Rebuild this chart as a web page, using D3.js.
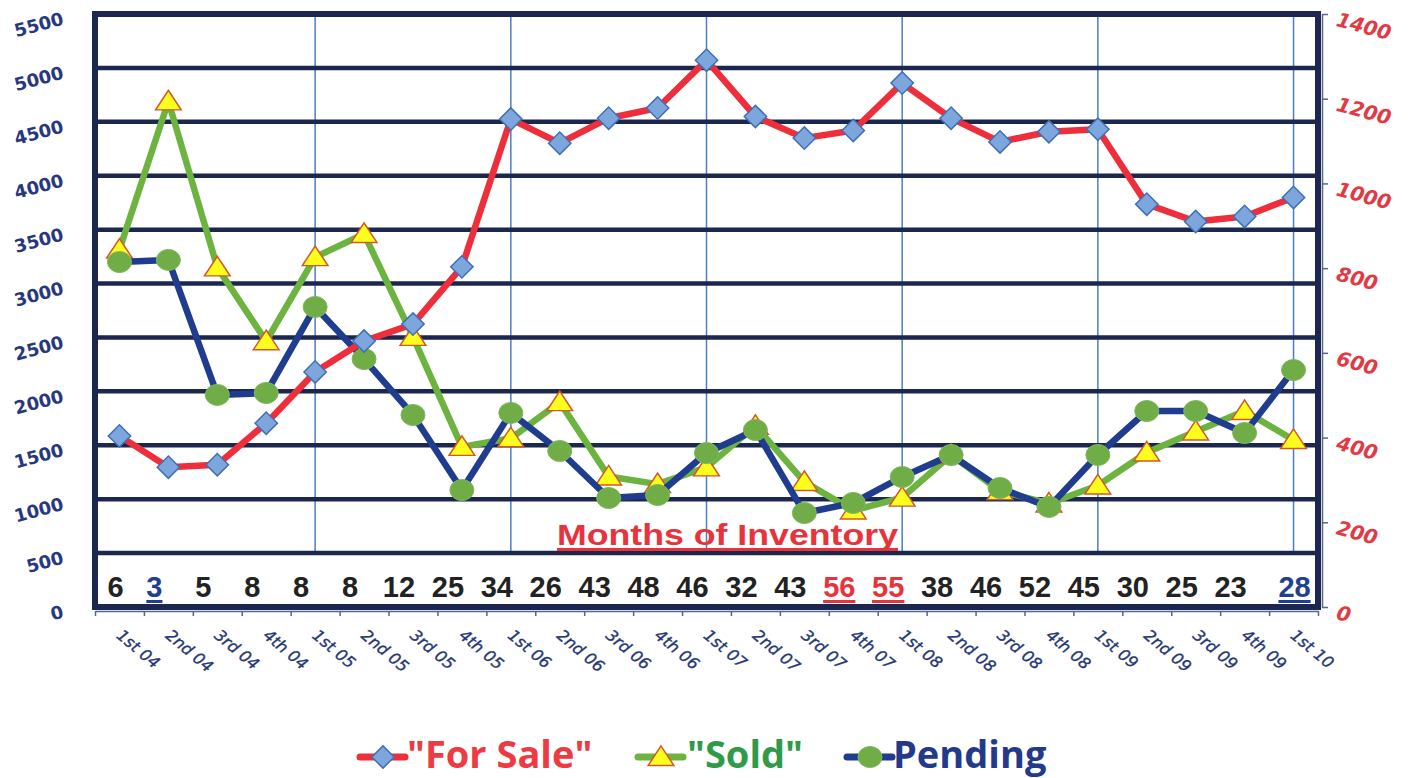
<!DOCTYPE html>
<html><head><meta charset="utf-8">
<script src="https://cdn.jsdelivr.net/npm/d3@7"></script>
<style>html,body{margin:0;padding:0;background:#fff;}svg{display:block;}</style>
</head><body>
<svg id="chart" width="1408" height="778"></svg>
<script>
const categories = ["1st 04","2nd 04","3rd 04","4th 04","1st 05","2nd 05","3rd 05","4th 05","1st 06","2nd 06","3rd 06","4th 06","1st 07","2nd 07","3rd 07","4th 07","1st 08","2nd 08","3rd 08","4th 08","1st 09","2nd 09","3rd 09","4th 09","1st 10"];
const forSale = [404,330,336,434,555,628,668,803,1152,1095,1154,1178,1291,1158,1107,1125,1237,1154,1098,1122,1128,951,910,922,967];
const sold = [3315,4690,3150,2465,3245,3460,2505,1485,1565,1900,1210,1140,1295,1680,1160,895,1015,1410,1075,960,1127,1433,1628,1818,1549];
const pending = [3200,3219,1967,1985,2783,2300,1781,1085,1800,1447,1011,1039,1428,1642,872,965,1206,1410,1104,928,1410,1818,1818,1614,2198];
const monthsOfInventory = [6,3,5,8,8,8,12,25,34,26,43,48,46,32,43,56,55,38,46,52,45,30,25,23,28];
const monthsBlue = ["2nd 04","1st 10"];
const monthsRed = ["4th 07","1st 08"];
const leftTicks = [0,500,1000,1500,2000,2500,3000,3500,4000,4500,5000,5500];
const rightTicks = [0,200,400,600,800,1000,1200,1400];
const seriesNames = ['"For Sale"','"Sold"','Pending'];
const inventoryTitle = "Months of Inventory";

const svg = d3.select("#chart");
const L = 95, R = 1318, T = 14, B = 607;
const x = d3.scaleBand().domain(categories).range([L, R]);
const cx = c => x(c) + x.bandwidth()/2;
const yL = d3.scaleLinear().domain([0, 5500]).range([B, T]);
const yR = d3.scaleLinear().domain([0, 1400]).range([B, T]);

const NAVY = "#1c2750", RED = "#ee2f3b", GREEN = "#6db33f", BLUE = "#1f3c8e";

// vertical year lines
svg.append("g").selectAll("line")
  .data(categories.filter((c,i) => c.startsWith("1st") && i > 0))
  .join("line")
  .attr("x1", d => cx(d)).attr("x2", d => cx(d))
  .attr("y1", T).attr("y2", yL(500))
  .attr("stroke", "#4a7fc2").attr("stroke-width", 1.5);

// horizontal grid
svg.append("g").selectAll("line")
  .data(leftTicks.filter(v => v > 0 && v < 5500))
  .join("line")
  .attr("x1", L).attr("x2", R)
  .attr("y1", d => yL(d)).attr("y2", d => yL(d))
  .attr("stroke", NAVY).attr("stroke-width", 4.5);

// frame
svg.append("rect").attr("x", L).attr("y", T).attr("width", R - L).attr("height", B - T)
  .attr("fill", "none").attr("stroke", NAVY).attr("stroke-width", 6);

// bottom axis with ticks at band edges
const xEdge = d3.scaleLinear().domain([0, categories.length]).range([L, R]);
const gx = svg.append("g").attr("transform", `translate(0,${B + 4})`)
  .call(d3.axisBottom(xEdge).ticks(categories.length).tickFormat("").tickSize(5).tickSizeOuter(0));
gx.selectAll("path,line").attr("stroke", "#56648e").attr("stroke-width", 1.5);

// x labels
svg.append("g").selectAll("text").data(categories).join("text")
  .attr("transform", d => `translate(${cx(d) - 4},${B + 30}) rotate(40)`)
  .attr("font-family", "DejaVu Sans").attr("font-size", 16).attr("font-style", "italic")
  .attr("fill", "#263774").attr("stroke", "#263774").attr("stroke-width", 0.35).text(d => d);

// left axis labels
svg.append("g").selectAll("text").data(leftTicks).join("text")
  .attr("transform", d => `translate(63,${yL(d) + 4}) rotate(-15)`)
  .attr("text-anchor", "end").attr("dominant-baseline", "central")
  .attr("font-family", "DejaVu Sans").attr("font-weight", "bold").attr("font-size", 18)
  .attr("fill", "#28387c").text(d => d);

// right axis
const gr = svg.append("g").attr("transform", `translate(${R + 4},0)`)
  .call(d3.axisRight(yR).tickValues(rightTicks).tickFormat("").tickSize(6).tickSizeOuter(0));
gr.selectAll("path,line").attr("stroke", "#56648e").attr("stroke-width", 1.5);
svg.append("g").selectAll("text").data(rightTicks).join("text")
  .attr("transform", d => `translate(1337,${yR(d) + 5}) rotate(15)`)
  .attr("dominant-baseline", "central")
  .attr("font-family", "DejaVu Sans").attr("font-weight", "bold").attr("font-style", "italic").attr("font-size", 20)
  .attr("fill", "#e23a45").text(d => d);

// months of inventory row
const mcol = c => monthsRed.includes(c) ? "#e8323c" : monthsBlue.includes(c) ? "#23408e" : "#222";
const mg = svg.append("g");
categories.forEach((c, i) => {
  const off = i === 0 ? -4 : (i === categories.length - 1 ? 1 : -14);
  const t = mg.append("text").attr("x", cx(c) + off).attr("y", 597)
    .attr("text-anchor", "middle").attr("font-family", "Liberation Sans").attr("font-weight", "bold")
    .attr("font-size", 29).attr("fill", mcol(c)).text(monthsOfInventory[i]);
  if (monthsRed.includes(c) || monthsBlue.includes(c)) {
    const w = t.node().getComputedTextLength();
    mg.append("rect").attr("x", cx(c) + off - w/2).attr("y", 600).attr("width", w).attr("height", 3).attr("fill", mcol(c));
  }
});

// Months of Inventory title
svg.append("text").attr("x", 557).attr("y", 545)
  .attr("font-family", "Liberation Sans").attr("font-weight", "bold").attr("font-size", 30)
  .attr("textLength", 341).attr("lengthAdjust", "spacingAndGlyphs")
  .attr("fill", "#e8323c").text(inventoryTitle);
svg.append("rect").attr("x", 557).attr("y", 548).attr("width", 341).attr("height", 3).attr("fill", "#e8323c");

// series lines
const lineL = d3.line().x((d,i) => cx(categories[i])).y(d => yL(d));
const lineR = d3.line().x((d,i) => cx(categories[i])).y(d => yR(d));

const diamond = d3.symbol().type(d3.symbolSquare).size(250);
const tri = d3.symbol().type(d3.symbolTriangle).size(260);

function drawTri(g, px, py) {
  g.append("path").attr("d", tri()).attr("transform", `translate(${px},${py + 2}) scale(1.05,0.92)`)
    .attr("fill", "#ffff1e").attr("stroke", "#d2572a").attr("stroke-width", 1.5);
}
function drawCircle(g, px, py) {
  g.append("ellipse").attr("cx", px).attr("cy", py).attr("rx", 12).attr("ry", 10.5)
    .attr("fill", "#70ad47").attr("stroke", "#7fb85a").attr("stroke-width", 1);
}
function drawDiamond(g, px, py) {
  g.append("path").attr("d", diamond()).attr("transform", `translate(${px},${py}) rotate(45)`)
    .attr("fill", "#7da7dc").attr("stroke", "#3f6fb5").attr("stroke-width", 1.5);
}

// Sold
const gs = svg.append("g");
gs.append("path").attr("d", lineL(sold)).attr("fill", "none").attr("stroke", GREEN).attr("stroke-width", 6.5).attr("stroke-linejoin", "round");
sold.forEach((v,i) => drawTri(gs, cx(categories[i]), yL(v)));
// Pending
const gp = svg.append("g");
gp.append("path").attr("d", lineL(pending)).attr("fill", "none").attr("stroke", BLUE).attr("stroke-width", 6.5).attr("stroke-linejoin", "round");
pending.forEach((v,i) => drawCircle(gp, cx(categories[i]), yL(v)));
// For Sale
const gf = svg.append("g");
gf.append("path").attr("d", lineR(forSale)).attr("fill", "none").attr("stroke", RED).attr("stroke-width", 6.5).attr("stroke-linejoin", "round");
forSale.forEach((v,i) => drawDiamond(gf, cx(categories[i]), yR(v)));

// legend
const lg = svg.append("g");
const legY = 757;
const legItems = [
  {name: seriesNames[0], lx: 360, tx: 407, color: RED, text: "#ee3a43", mk: drawDiamond},
  {name: seriesNames[1], lx: 638, tx: 687, color: GREEN, text: "#2f9a48", mk: drawTri},
  {name: seriesNames[2], lx: 847, tx: 893, color: BLUE, text: "#233a8a", mk: drawCircle}
];
legItems.forEach(it => {
  lg.append("line").attr("x1", it.lx).attr("x2", it.lx + 45).attr("y1", legY).attr("y2", legY)
    .attr("stroke", it.color).attr("stroke-width", 7).attr("stroke-linecap", "round");
  it.mk(lg, it.lx + 23, legY);
  lg.append("text").attr("x", it.tx).attr("y", 768)
    .attr("font-family", "Open Sans").attr("font-weight", "bold").attr("font-size", 38)
    .attr("fill", it.text).text(it.name);
});
</script>
</body></html>
